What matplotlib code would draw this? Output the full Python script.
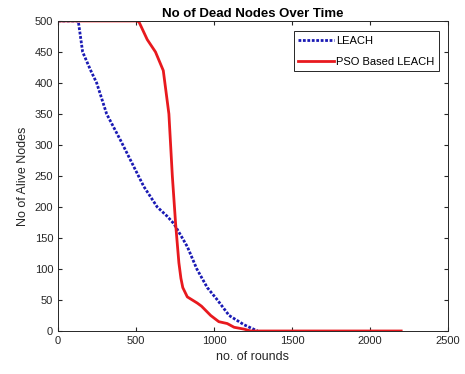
import matplotlib

matplotlib.use("Agg")
import matplotlib.pyplot as plt

# values
leach_rounds = [0, 130, 158, 210, 248, 312, 400, 486, 550, 636, 700, 743, 797, 829, 890, 957, 1022, 1097, 1193, 1279]
leach_alive = [500, 500, 450, 420, 400, 350, 308, 265, 233, 200, 185, 173, 150, 136, 100, 70, 50, 25, 10, 0]

pso_rounds = [0, 507, 520, 572, 625, 675, 711, 733, 754, 775, 788, 800, 829, 893, 920, 979, 1031, 1085, 1129, 1193, 1236, 2200]
pso_alive = [500, 500, 498, 470, 450, 420, 350, 250, 173, 110, 85, 70, 55, 45, 40, 25, 15, 12, 6, 3, 0, 0]

x_ticks = [0, 500, 1000, 1500, 2000, 2500]
y_ticks = [0, 50, 100, 150, 200, 250, 300, 350, 400, 450, 500]

plt.rcParams["font.family"] = ["Liberation Sans", "DejaVu Sans"]

fig = plt.figure(figsize=(4.65, 3.74), dpi=100)
ax = fig.add_axes([0.1247, 0.115, 0.8387, 0.829])

ax.plot(leach_rounds, leach_alive, color="#1a1ab4", linestyle=(0, (1, 0.6)), linewidth=2.0, label="LEACH")
ax.plot(pso_rounds, pso_alive, color="#e8191e", linewidth=2.0, label="PSO Based LEACH")

ax.set_xlim(0, 2500)
ax.set_ylim(0, 500)
ax.set_xticks(x_ticks)
ax.set_yticks(y_ticks)
ax.tick_params(direction="in", top=True, right=True, labelsize=8, colors="#262626", length=3)
for side in ax.spines.values():
    side.set_color("#262626")
    side.set_linewidth(0.7)

ax.set_xlabel("no. of rounds", fontsize=9, color="#262626")
ax.set_ylabel("No of Alive Nodes", fontsize=9, color="#262626")
ax.set_title("No of Dead Nodes Over Time", fontsize=9.5, fontweight="bold", pad=3)

leg = ax.legend(loc="upper right", fontsize=8, fancybox=False, framealpha=1, edgecolor="#262626",
                handlelength=3.2, handletextpad=0.2, borderpad=0.4, labelspacing=1.0,
                bbox_to_anchor=(0.99, 0.985))
leg.get_frame().set_linewidth(0.7)

fig.savefig("out.png", dpi=100)
